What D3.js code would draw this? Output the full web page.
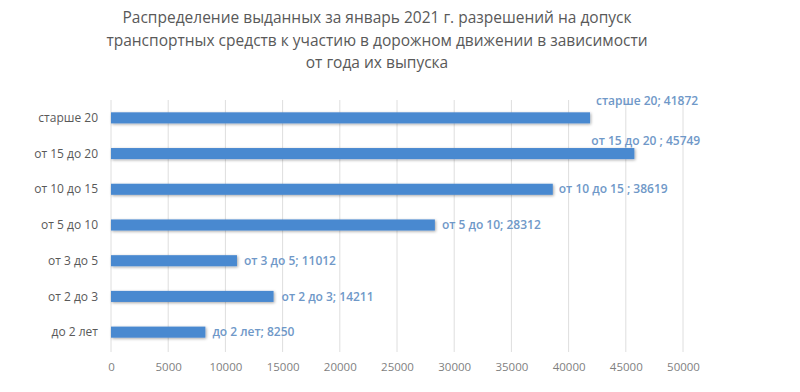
<!DOCTYPE html>
<html>
<head>
<meta charset="utf-8">
<script src="https://cdn.jsdelivr.net/npm/d3@7"></script>
<style>
  body { margin: 0; background: #fff; }
  svg { display: block; font-family: "Open Sans", "DejaVu Sans", sans-serif; }
</style>
</head>
<body>
<svg id="chart" width="800" height="392"></svg>
<script>
// chart data
const categories = ["старше 20", "от 15 до 20", "от 10 до 15", "от 5 до 10", "от 3 до 5", "от 2 до 3", "до 2 лет"];
const values = [41872, 45749, 38619, 28312, 11012, 14211, 8250];
const dataLabels = ["старше  20; 41872", "от 15 до 20 ; 45749", "от 10 до 15 ; 38619", "от 5 до 10; 28312", "от 3 до 5; 11012", "от 2 до 3; 14211", "до 2 лет; 8250"];
const xTicks = [0, 5000, 10000, 15000, 20000, 25000, 30000, 35000, 40000, 45000, 50000];
const titleLines = [
    "Распределение выданных за январь 2021 г. разрешений на допуск",
    "транспортных средств к участию в дорожном движении в зависимости",
    "от года их выпуска"
];

// label nudges (the two top labels sit above their bars)
const labelShift = [[6, -17], [-43, -13], [6, 0], [7, 0], [7, 0], [8, 0], [7, 0]];

const margin = { top: 100, right: 117, bottom: 42, left: 111 },
    width = 800 - margin.left - margin.right,
    height = 392 - margin.top - margin.bottom;

const svg = d3.select("#chart");

// title
svg.append("g")
    .selectAll("text")
    .data(titleLines)
    .enter().append("text")
    .attr("x", 377)
    .attr("y", (d, i) => 23 + i * 22.5)
    .attr("text-anchor", "middle")
    .style("font-size", "15.5px")
    .style("fill", "#595959")
    .text(d => d);

const g = svg.append("g")
    .attr("transform", "translate(" + margin.left + "," + margin.top + ")");

const x = d3.scaleLinear().domain([0, 50000]).range([0, width]);
const y = d3.scaleBand().domain(categories).range([0, height]).paddingInner(0.69).paddingOuter(0.345);

// gridlines
g.selectAll(".grid")
    .data(xTicks)
    .enter().append("line")
    .attr("class", "grid")
    .attr("x1", d => x(d))
    .attr("x2", d => x(d))
    .attr("y1", 0)
    .attr("y2", height + 2)
    .style("stroke", "#dedede")
    .style("stroke-width", 1);

// x axis
const xAxis = g.append("g")
    .attr("transform", "translate(0," + height + ")")
    .call(d3.axisBottom(x).tickValues(xTicks).tickFormat(d3.format("d")).tickSize(0).tickPadding(13));
xAxis.select(".domain").remove();
xAxis.selectAll("text")
    .style("font-size", "11.5px")
    .style("fill", "#7f7f7f")
    .style("font-family", "Open Sans, sans-serif");

// y category labels
g.selectAll(".cat")
    .data(categories)
    .enter().append("text")
    .attr("class", "cat")
    .attr("x", -13)
    .attr("y", d => y(d) + y.bandwidth() / 2)
    .attr("dy", "0.35em")
    .attr("text-anchor", "end")
    .style("font-size", "12px")
    .style("fill", "#595959")
    .text(d => d);

// soft shadow behind bars
const defs = svg.append("defs");
const blur = defs.append("filter").attr("id", "glow").attr("x", "-5%").attr("y", "-50%").attr("width", "110%").attr("height", "200%");
blur.append("feGaussianBlur").attr("in", "SourceAlpha").attr("stdDeviation", 1.5).attr("result", "b");
blur.append("feOffset").attr("in", "b").attr("dx", 1).attr("dy", 1).attr("result", "o");
blur.append("feComponentTransfer").attr("in", "o").attr("result", "s")
    .append("feFuncA").attr("type", "linear").attr("slope", 0.35);
const merge = blur.append("feMerge");
merge.append("feMergeNode").attr("in", "s");
merge.append("feMergeNode").attr("in", "SourceGraphic");

// bars
g.selectAll(".bar")
    .data(values)
    .enter().append("rect")
    .attr("class", "bar")
    .attr("x", 0)
    .attr("y", (d, i) => y(categories[i]))
    .attr("width", d => x(d))
    .attr("height", y.bandwidth())
    .attr("filter", "url(#glow)")
    .style("fill", "#4a89d0");

// data labels
g.selectAll(".val")
    .data(values)
    .enter().append("text")
    .attr("class", "val")
    .attr("x", (d, i) => x(d) + labelShift[i][0])
    .attr("y", (d, i) => y(categories[i]) + y.bandwidth() / 2 + labelShift[i][1])
    .attr("dy", "0.35em")
    .style("font-size", "12px")
    .style("font-weight", "600")
    .style("fill", "#6f98c8")
    .text((d, i) => dataLabels[i]);
</script>
</body>
</html>
